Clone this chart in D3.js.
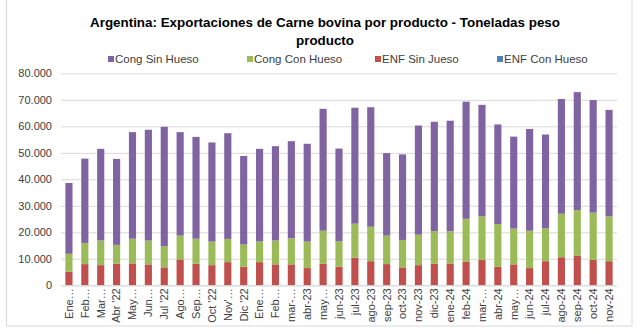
<!DOCTYPE html>
<html><head><meta charset="utf-8">
<script src="https://cdn.jsdelivr.net/npm/d3@7"></script>
<style>body{margin:0;background:#fff}svg{display:block}text{font-family:"Liberation Sans",Arial,sans-serif}</style>
</head><body><svg id="c" width="640" height="334"></svg>
<script>
const categories = ["Ene…","Feb…","Mar…","Abr '22","May…","Jun…","Jul '22","Ago…","Sep…","Oct '22","Nov'…","Dic '22","Ene…","Feb…","mar-…","abr-23","may…","jun-23","jul-23","ago-23","sep-23","oct-23","nov-23","dic-23","ene-24","feb-24","mar-…","abr-24","may…","jun-24","jul-24","ago-24","sep-24","oct-24","nov-24"];
const enfConHueso = [0,0,0,0,0,0,0,0,0,0,0,0,0,0,0,0,0,0,0,0,0,0,0,0,0,0,0,0,0,0,0,0,0,0,0];
const enfSinJueso = [5100,8000,7600,8100,8250,7900,6750,9750,8100,7600,8750,7000,8750,7900,7900,6500,8100,7000,10400,9100,8000,6750,7600,8100,8250,9000,9600,7000,7900,6500,9100,10600,11250,9600,9100];
const congConHueso = [6800,8000,9300,7150,9350,9000,8000,9000,9500,8900,8750,8400,7750,9000,9850,10000,12500,9600,12850,13000,10750,10350,11500,12300,12150,16100,16400,16100,13500,14100,12400,16400,17150,17800,16900];
const congSinHueso = [26700,31800,34600,32450,40200,41800,45050,39050,38400,37400,39900,33400,35000,35600,36650,36900,46000,35000,43750,45100,31150,32300,41200,41300,41700,44200,42100,37600,34700,38400,35400,43300,44500,42500,40200];
const yTicks = [0,10000,20000,30000,40000,50000,60000,70000,80000];
const seriesNames = ["Cong Sin Hueso","Cong Con Hueso","ENF Sin Jueso","ENF Con Hueso"];
const colors = {"Cong Sin Hueso":"#8064A2","Cong Con Hueso":"#9BBB59","ENF Sin Jueso":"#C0504D","ENF Con Hueso":"#4F81BD"};

const svg = d3.select("#c");
const m = {l:61, r:617, t:73.3, b:285.3};
const rows = categories.map((c,i)=>({i, "ENF Con Hueso":enfConHueso[i], "ENF Sin Jueso":enfSinJueso[i], "Cong Con Hueso":congConHueso[i], "Cong Sin Hueso":congSinHueso[i]}));
const x = d3.scaleBand().domain(d3.range(categories.length)).range([m.l,m.r]).paddingInner(0.55).paddingOuter(0.275);
const y = d3.scaleLinear().domain([0,80000]).range([m.b,m.t]);
const loc = d3.formatLocale({decimal:",",thousands:".",grouping:[3],currency:["$",""]});
const fmt = loc.format(",");

// frame
svg.append("rect").attr("x",6.5).attr("y",-2).attr("width",625.5).attr("height",328).attr("fill","none").attr("stroke","#D9D9D9");

// title
const title = svg.append("text").attr("x",325).attr("text-anchor","middle").attr("font-weight","bold").attr("font-size",13.4).attr("fill","#000");
title.append("tspan").attr("x",325).attr("y",27).text("Argentina: Exportaciones de Carne bovina por producto - Toneladas peso");
title.append("tspan").attr("x",325).attr("y",45).text("producto");

// grid
const ya = svg.append("g").attr("transform",`translate(${m.l},0)`).call(d3.axisLeft(y).tickValues(yTicks).tickSize(-(m.r-m.l)).tickPadding(9).tickFormat(fmt));
ya.select(".domain").remove();
ya.selectAll(".tick line").attr("stroke","#D9D9D9");
ya.selectAll(".tick text").attr("font-size",11).attr("fill","#404040").attr("font-family","Liberation Sans, Arial, sans-serif");

// bars
const stack = d3.stack().keys(["ENF Con Hueso","ENF Sin Jueso","Cong Con Hueso","Cong Sin Hueso"])(rows);
svg.append("g").selectAll("g").data(stack).join("g").attr("fill",d=>colors[d.key])
  .selectAll("rect").data(d=>d).join("rect")
  .attr("x",d=>x(d.data.i)).attr("width",x.bandwidth())
  .attr("y",d=>y(d[1])).attr("height",d=>Math.max(0,y(d[0])-y(d[1])));

// x axis
const xa = svg.append("g").attr("transform",`translate(0,${m.b})`).call(d3.axisBottom(x).tickSize(0).tickFormat(i=>categories[i]));
xa.select(".domain").attr("stroke","#D9D9D9").attr("d",`M${m.l},0.5H${m.r}`);
xa.selectAll(".tick text").attr("font-size",11).attr("fill","#404040").attr("font-family","Liberation Sans, Arial, sans-serif")
  .attr("transform","rotate(-90)").attr("text-anchor","end").attr("x",-3).attr("y",0).attr("dy","0.35em");

// legend
const legX = [108,247,375,497];
const lg = svg.append("g").selectAll("g").data(seriesNames).join("g").attr("transform",(d,i)=>`translate(${legX[i]},59)`);
lg.append("rect").attr("x",0).attr("y",-3).attr("width",6).attr("height",6).attr("fill",d=>colors[d]);
lg.append("text").attr("x",7).attr("y",0).attr("dy","0.35em").attr("font-size",11.5).attr("fill","#404040").text(d=>d);
</script></body></html>
